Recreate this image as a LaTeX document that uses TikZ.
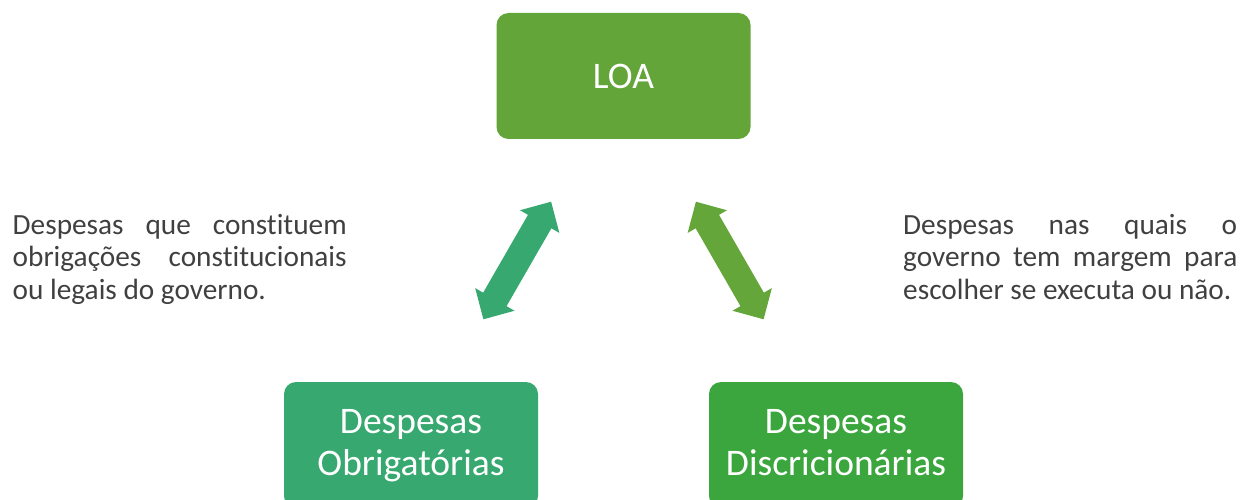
\documentclass[tikz,border=0pt]{standalone}
\usepackage{fontspec}
\setmainfont{Carlito}[Ligatures=NoCommon]
\usepackage{tikz}
\usetikzlibrary{arrows.meta}
\definecolor{verdeloa}{HTML}{63A539}
\definecolor{verdeobr}{HTML}{37A86F}
\definecolor{verdedis}{HTML}{3AA63D}
\definecolor{verdeseta}{HTML}{65A63A}
\definecolor{cinza}{HTML}{404040}
\tikzstyle{caixa} = [rectangle, rounded corners=12pt, minimum width=254pt, minimum height=126pt, text=white, align=center, font=\fontsize{37.5}{42}\selectfont]
\tikzstyle{caixabaixo} = [caixa, text height=68pt, text depth=8pt]
\tikzstyle{texto} = [text width=334pt, align=justify, inner sep=0pt, anchor=north west, text=cinza, font=\fontsize{29.3}{32.5}\selectfont]
\tikzstyle{seta} = [line width=27pt, {Triangle[width=44pt,length=23pt]}-{Triangle[width=44pt,length=23pt]}, shorten <=145pt, shorten >=145pt]

\begin{document}
\begin{tikzpicture}[x=1pt,y=-1pt]
    \useasboundingbox (0,0) rectangle (1253,500);
    \node [caixa, fill=verdeloa] (loa) at (623.5,76) {LOA};
    \node [caixabaixo, fill=verdeobr] (obrig) at (411,445) {Despesas\\Obrigatórias};
    \node [caixabaixo, fill=verdedis] (discr) at (836,445) {Despesas\\Discricionárias};
    % setas
    \draw [seta, verdeobr] (obrig.center) -- (loa.center);
    \draw [seta, verdeseta] (loa.center) -- (discr.center);
    % textos laterais
    \node [texto] (txtobr) at (12.5,214) {Despesas que constituem\linebreak obrigações constitucionais\linebreak ou legais do governo.};
    \node [texto] (txtdis) at (903,214) {Despesas nas quais o\linebreak governo tem margem para\linebreak escolher se executa ou não.};
\end{tikzpicture}
\end{document}
